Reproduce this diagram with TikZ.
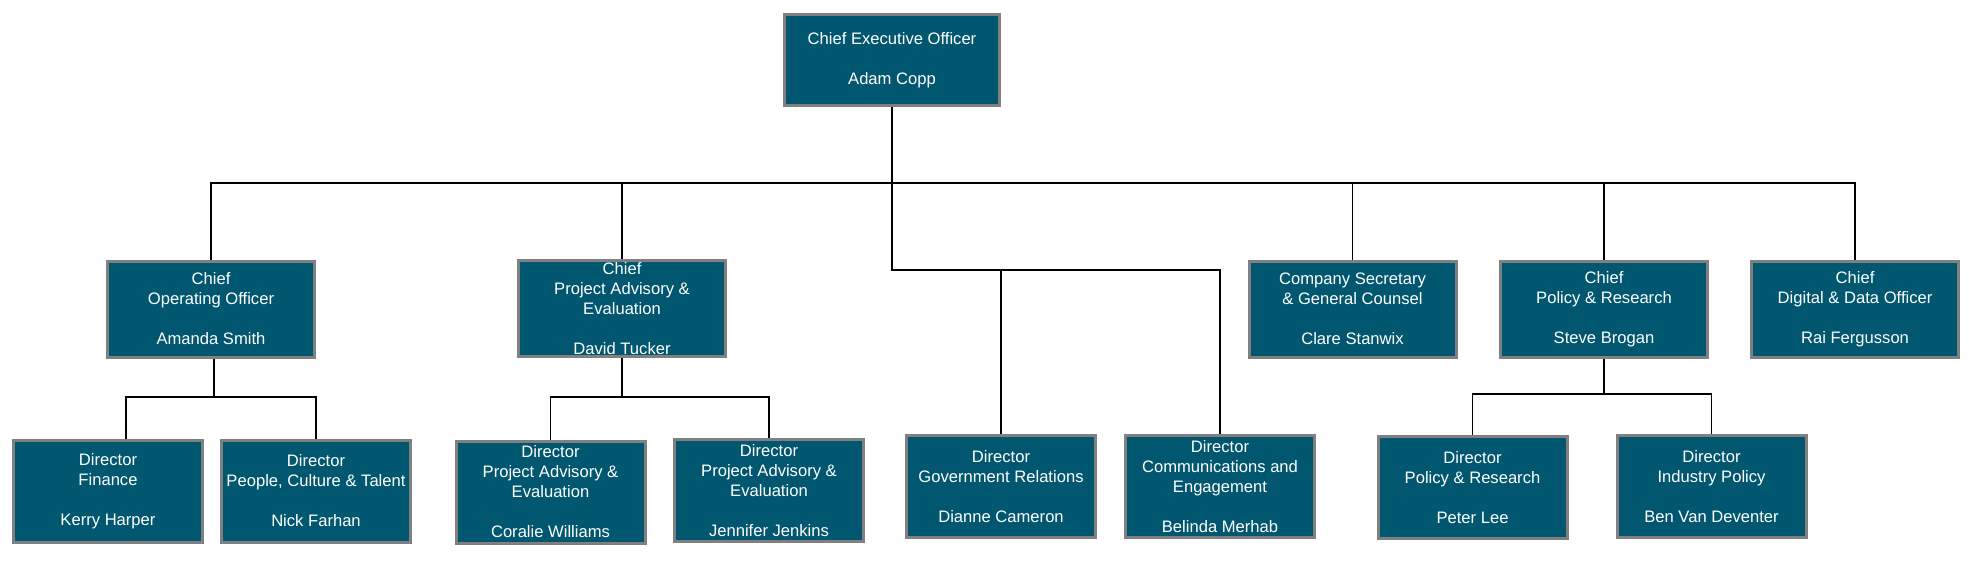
\documentclass[tikz,border=0pt]{standalone}
\usepackage{fontspec}
\setmainfont{Liberation Sans}
\usetikzlibrary{positioning, calc}
\definecolor{boxteal}{RGB}{0,87,111}
\definecolor{boxedge}{RGB}{128,128,128}

\begin{document}
\begin{tikzpicture}[x=1pt, y=-1pt,
					box/.style={draw=boxedge, line width=3pt, fill=boxteal, text=white, align=center, inner sep=0pt, font=\fontsize{16.6}{20}\selectfont},
					chief/.style={box, minimum width=207, minimum height=96},
					director/.style={box, minimum width=189, minimum height=102},
					link/.style={draw, line width=1.8pt}]
					\useasboundingbox (0,0) rectangle (1969,565);

					\node[box, minimum width=215, minimum height=91] (ceo) at (892,60) {Chief Executive Officer\\[20pt]Adam Copp};

					\node[chief] (coo) at (211,309) {Chief\\Operating Officer\\[20pt]Amanda Smith};
					\node[chief] (cpae) at (622,308.5) {Chief\\Project Advisory \&\\Evaluation\\[20pt]David Tucker};
					\node[chief] (cosec) at (1352.5,309) {Company Secretary\\\& General Counsel\\[20pt]Clare Stanwix};
					\node[chief] (cpr) at (1604,309.5) {Chief\\Policy \& Research\\[20pt]Steve Brogan};
					\node[chief] (cddo) at (1855,309) {Chief\\Digital \& Data Officer\\[20pt]Rai Fergusson};

					\node[director] (dfin) at (108,491) {Director\\Finance\\[20pt]Kerry Harper};
					\node[director] (dpeople) at (316,491) {Director\\People, Culture \& Talent\\[20pt]Nick Farhan};
					\node[director] (dpae1) at (550.5,492) {Director\\Project Advisory \&\\Evaluation\\[20pt]Coralie Williams};
					\node[director] (dpae2) at (769,490.5) {Director\\Project Advisory \&\\Evaluation\\[20pt]Jennifer Jenkins};
					\node[director] (dgov) at (1001,486.5) {Director\\Government Relations\\[20pt]Dianne Cameron};
					\node[director] (dcomms) at (1220,486.5) {Director\\Communications and\\Engagement\\[20pt]Belinda Merhab};
					\node[director] (dpr) at (1472.5,487.5) {Director\\Policy \& Research\\[20pt]Peter Lee};
					\node[director] (dind) at (1711.5,486.5) {Director\\Industry Policy\\[20pt]Ben Van Deventer};

					\coordinate (topbar) at (892,183);
					\coordinate (midbar) at (892,270);
					\coordinate (coobar) at (214,397);
					\coordinate (paebar) at (622,397);
					\coordinate (prbar) at (1604,394);

					\draw[link] (ceo.south) -- (midbar) -| (dcomms.north);
					\draw[link] (dgov.north) -- (dgov.north |- midbar);
					\foreach \n in {coo, cpae, cosec, cpr, cddo}
						\draw[link] (topbar) -| (\n.north);

					\draw[link] (coo.south -| coobar) -- (coobar) -| ($(dfin.north)+(18,0)$);
					\draw[link] (coobar) -| (dpeople.north);
					\draw[link] (cpae.south) -- (paebar) -| (dpae1.north);
					\draw[link] (paebar) -| (dpae2.north);
					\draw[link] (cpr.south) -- (prbar) -| (dpr.north);
					\draw[link] (prbar) -| (dind.north);
				\end{tikzpicture}
\end{document}
